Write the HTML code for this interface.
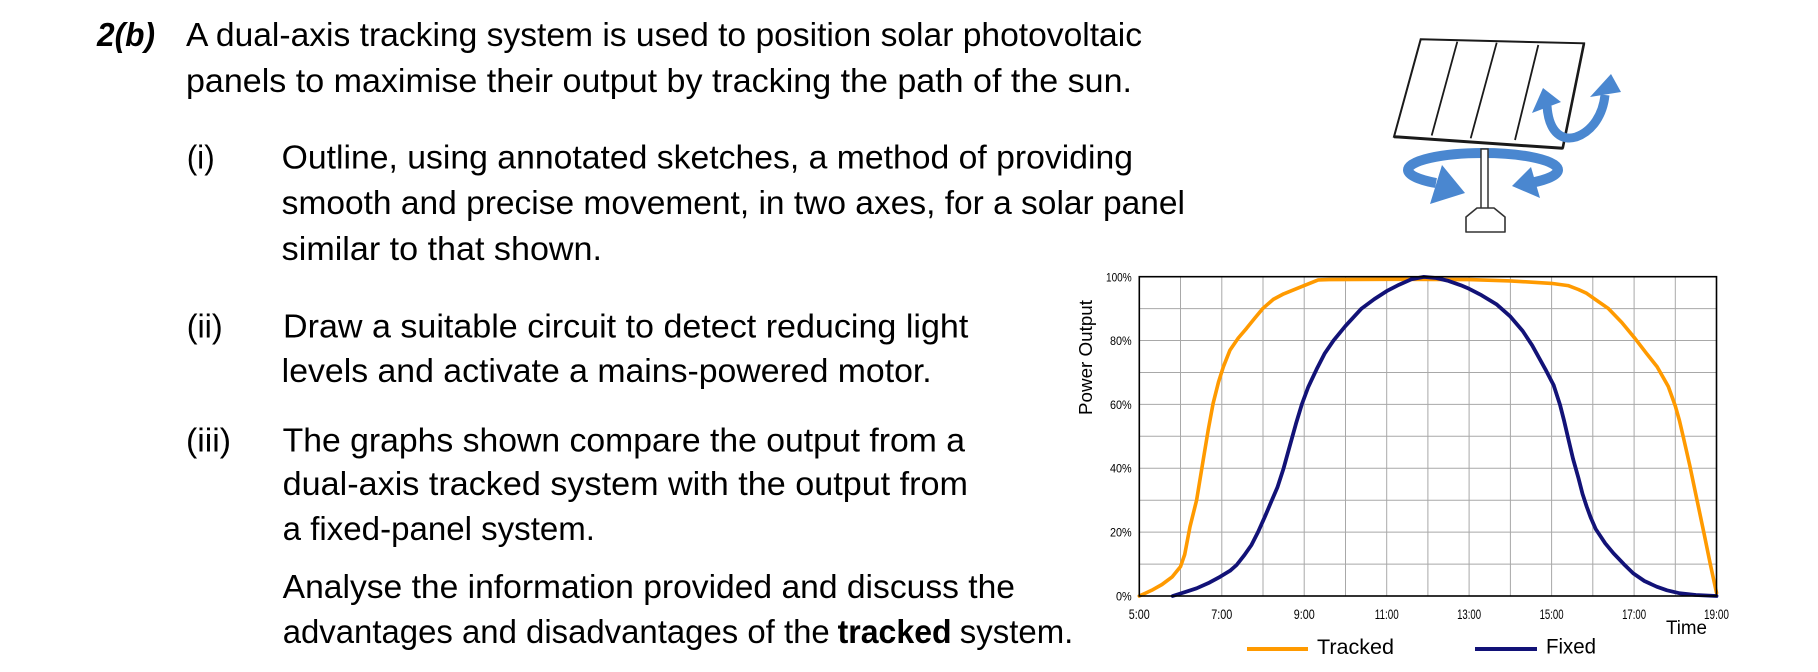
<!DOCTYPE html>
<html>
<head>
<meta charset="utf-8">
<style>
html,body{margin:0;padding:0;background:#fff;}
svg{display:block;}
text{font-family:"Liberation Sans",sans-serif;fill:#000;}
</style>
</head>
<body>
<svg width="1818" height="672" viewBox="0 0 1818 672" xmlns="http://www.w3.org/2000/svg">
<rect x="0" y="0" width="1818" height="672" fill="#fff"/>

<!-- Question text -->
<g font-size="33">
<text x="97" y="46" font-weight="bold" font-style="italic" textLength="58" lengthAdjust="spacingAndGlyphs">2(b)</text>
<text x="186" y="46" textLength="956" lengthAdjust="spacingAndGlyphs">A dual-axis tracking system is used to position solar photovoltaic</text>
<text x="186" y="92" textLength="946" lengthAdjust="spacingAndGlyphs">panels to maximise their output by tracking the path of the sun.</text>

<text x="186.7" y="168.5" textLength="28" lengthAdjust="spacingAndGlyphs">(i)</text>
<text x="281.7" y="168.5" textLength="851.3" lengthAdjust="spacingAndGlyphs">Outline, using annotated sketches, a method of providing</text>
<text x="281.7" y="214" textLength="903.3" lengthAdjust="spacingAndGlyphs">smooth and precise movement, in two axes, for a solar panel</text>
<text x="281.7" y="260" textLength="320.3" lengthAdjust="spacingAndGlyphs">similar to that shown.</text>

<text x="186.7" y="337.5" textLength="36" lengthAdjust="spacingAndGlyphs">(ii)</text>
<text x="283" y="337.5" textLength="685.3" lengthAdjust="spacingAndGlyphs">Draw a suitable circuit to detect reducing light</text>
<text x="281.7" y="382" textLength="650" lengthAdjust="spacingAndGlyphs">levels and activate a mains-powered motor.</text>

<text x="186" y="451.5" textLength="45" lengthAdjust="spacingAndGlyphs">(iii)</text>
<text x="282.7" y="451.5" textLength="682.3" lengthAdjust="spacingAndGlyphs">The graphs shown compare the output from a</text>
<text x="282.7" y="495" textLength="685.3" lengthAdjust="spacingAndGlyphs">dual-axis tracked system with the output from</text>
<text x="282.7" y="540" textLength="312.3" lengthAdjust="spacingAndGlyphs">a fixed-panel system.</text>

<text x="282.7" y="598" textLength="732.3" lengthAdjust="spacingAndGlyphs">Analyse the information provided and discuss the</text>
<text x="282.7" y="643" textLength="547" lengthAdjust="spacingAndGlyphs">advantages and disadvantages of the</text>
<text x="837.6" y="643" font-weight="bold" textLength="114" lengthAdjust="spacingAndGlyphs">tracked</text>
<text x="959.8" y="643" textLength="113.5" lengthAdjust="spacingAndGlyphs">system.</text>
</g>

<!-- Solar panel sketch -->
<g>
  <!-- rotation ellipse arrows (behind pole) -->
  <g fill="none" stroke="#4a87d0" stroke-width="10">
    <path d="M1483,153 A75,17 0 0 0 1408,170 A75,17 0 0 0 1436,183"/>
    <path d="M1483,153 A75,17 0 0 1 1558,170 A75,17 0 0 1 1530,183"/>
  </g>
  <polygon points="1442,165 1430,204 1465,193" fill="#4a87d0"/>
  <polygon points="1531,167 1540,198 1512,186" fill="#4a87d0"/>

  <!-- panel -->
  <polygon points="1420.7,39.3 1584,43.3 1562.7,148.3 1394,136.7" fill="#fff" stroke="#1a1a1a" stroke-width="2"/>
  <line x1="1394" y1="136.7" x2="1562.7" y2="148.3" stroke="#1a1a1a" stroke-width="3"/>
  <line x1="1584" y1="43.3" x2="1562.7" y2="148.3" stroke="#1a1a1a" stroke-width="2.6"/>
  <g stroke="#1a1a1a" stroke-width="1.8">
    <line x1="1457.3" y1="41.7" x2="1431.7" y2="135.5"/>
    <line x1="1496.7" y1="42.7" x2="1470.7" y2="138.3"/>
    <line x1="1538.3" y1="45" x2="1515" y2="140"/>
  </g>

  <!-- pole and base -->
  <rect x="1481" y="149" width="7" height="60" fill="#fff" stroke="#333" stroke-width="1.5"/>
  <path d="M1477,208 L1494,208 L1505,217 L1505,232 L1466,232 L1466,217 Z" fill="#fff" stroke="#333" stroke-width="1.6" stroke-linejoin="round"/>

  <!-- tilt arrow -->
  <path d="M1547,106 C1549,134 1563,141 1576,137 C1593,131 1603,114 1605,95" fill="none" stroke="#4a87d0" stroke-width="9"/>
  <polygon points="1543,88 1532,113 1561,102" fill="#4a87d0"/>
  <polygon points="1611,74 1590,97 1621,92" fill="#4a87d0"/>
</g>

<!-- Chart gridlines -->
<g stroke="#a8a8a8" stroke-width="1">
  <line x1="1180.5" y1="276.7" x2="1180.5" y2="596"/>
  <line x1="1221.8" y1="276.7" x2="1221.8" y2="596"/>
  <line x1="1263.0" y1="276.7" x2="1263.0" y2="596"/>
  <line x1="1304.2" y1="276.7" x2="1304.2" y2="596"/>
  <line x1="1345.5" y1="276.7" x2="1345.5" y2="596"/>
  <line x1="1386.7" y1="276.7" x2="1386.7" y2="596"/>
  <line x1="1427.9" y1="276.7" x2="1427.9" y2="596"/>
  <line x1="1469.1" y1="276.7" x2="1469.1" y2="596"/>
  <line x1="1510.4" y1="276.7" x2="1510.4" y2="596"/>
  <line x1="1551.6" y1="276.7" x2="1551.6" y2="596"/>
  <line x1="1592.8" y1="276.7" x2="1592.8" y2="596"/>
  <line x1="1634.1" y1="276.7" x2="1634.1" y2="596"/>
  <line x1="1675.3" y1="276.7" x2="1675.3" y2="596"/>

  <line x1="1139.3" y1="308.6" x2="1716.5" y2="308.6"/>
  <line x1="1139.3" y1="340.5" x2="1716.5" y2="340.5"/>
  <line x1="1139.3" y1="372.5" x2="1716.5" y2="372.5"/>
  <line x1="1139.3" y1="404.4" x2="1716.5" y2="404.4"/>
  <line x1="1139.3" y1="436.3" x2="1716.5" y2="436.3"/>
  <line x1="1139.3" y1="468.3" x2="1716.5" y2="468.3"/>
  <line x1="1139.3" y1="500.2" x2="1716.5" y2="500.2"/>
  <line x1="1139.3" y1="532.1" x2="1716.5" y2="532.1"/>
  <line x1="1139.3" y1="564.1" x2="1716.5" y2="564.1"/>
</g>

<!-- Series -->
<polyline fill="none" stroke="#ff9a00" stroke-width="3.6" stroke-linejoin="round" stroke-linecap="round"
 points="1139.3,596 1151.7,590.3 1162.0,584.5 1172.3,576.8 1180.5,566.6 1184.7,554.5 1190.0,526.7 1196.6,500.2 1203.2,460.0 1208.2,430.0 1213.1,403.5 1218.5,382.1 1223.4,366.7 1230.0,350.1 1238.3,338.0 1246.5,328.4 1254.7,318.2 1263.0,308.3 1273.3,299.4 1283.6,293.9 1293.1,290.1 1304.2,285.6 1318.2,279.9 1329.0,279.6 1386.7,279.3 1469.1,279.6 1510.4,280.9 1551.6,283.4 1568.1,285.6 1578.4,289.5 1586.6,293.3 1597.0,300.6 1608.1,308.3 1621.7,322.4 1634.9,338.3 1646.4,353.3 1657.1,366.7 1668.3,386.5 1675.3,406.0 1679.4,420.4 1683.5,437.9 1689.7,465.1 1696.7,498.6 1704.1,533.7 1710.3,564.1 1716.5,592.8"/>
<polyline fill="none" stroke="#121277" stroke-width="3.8" stroke-linejoin="round" stroke-linecap="round"
 points="1172.7,596 1184.7,592.2 1196.6,588.3 1209.4,582.6 1220.1,576.8 1230.0,570.8 1236.6,565.0 1244.4,555.1 1251.5,544.9 1258.0,532.1 1265.1,516.2 1271.2,501.8 1277.4,487.4 1283.6,468.3 1289.8,445.9 1296.0,423.6 1301.8,404.4 1308.3,386.9 1316.6,369.3 1324.8,353.3 1333.5,340.6 1345.5,325.9 1361.5,308.6 1374.3,299.1 1386.7,291.1 1399.1,284.7 1411.4,279.3 1423.8,276.9 1436.2,278.0 1448.5,280.9 1460.9,285.3 1469.1,288.8 1481.5,295.2 1496.4,304.2 1510.4,316.6 1522.7,331.0 1532.2,345.4 1545.4,369.3 1553.7,385.3 1559.9,404.4 1564.0,420.4 1568.1,437.9 1573.0,458.7 1578.4,477.9 1582.5,493.8 1586.7,506.6 1590.8,517.8 1595.7,529.0 1605.2,543.3 1613.4,553.2 1623.8,564.1 1633.2,573.3 1644.4,581.0 1656.7,586.7 1667.0,590.3 1679.8,593.3 1695.9,595.0 1716.5,596"/>

<!-- Plot border -->
<rect x="1139.3" y="276.7" width="577.2" height="319.3" fill="none" stroke="#000" stroke-width="1.6"/>

<!-- Y tick labels -->
<g font-size="12">
  <text x="1106" y="281.5" textLength="25.7" lengthAdjust="spacingAndGlyphs">100%</text>
  <text x="1110" y="345" textLength="21.7" lengthAdjust="spacingAndGlyphs">80%</text>
  <text x="1110" y="408.8" textLength="21.7" lengthAdjust="spacingAndGlyphs">60%</text>
  <text x="1110" y="472.7" textLength="21.7" lengthAdjust="spacingAndGlyphs">40%</text>
  <text x="1110" y="536.5" textLength="21.7" lengthAdjust="spacingAndGlyphs">20%</text>
  <text x="1116" y="600.4" textLength="15.7" lengthAdjust="spacingAndGlyphs">0%</text>
</g>

<!-- X tick labels -->
<g font-size="14">
  <text x="1128.8" y="619" textLength="21" lengthAdjust="spacingAndGlyphs">5:00</text>
  <text x="1211.3" y="619" textLength="21" lengthAdjust="spacingAndGlyphs">7:00</text>
  <text x="1293.7" y="619" textLength="21" lengthAdjust="spacingAndGlyphs">9:00</text>
  <text x="1374.7" y="619" textLength="24" lengthAdjust="spacingAndGlyphs">11:00</text>
  <text x="1457.1" y="619" textLength="24" lengthAdjust="spacingAndGlyphs">13:00</text>
  <text x="1539.6" y="619" textLength="24" lengthAdjust="spacingAndGlyphs">15:00</text>
  <text x="1622.1" y="619" textLength="24" lengthAdjust="spacingAndGlyphs">17:00</text>
  <text x="1704" y="619" textLength="25" lengthAdjust="spacingAndGlyphs">19:00</text>
</g>

<!-- Axis titles -->
<text transform="translate(1092,415) rotate(-90)" x="0" y="0" font-size="18" textLength="115" lengthAdjust="spacingAndGlyphs">Power Output</text>
<text x="1666" y="634" font-size="19" textLength="41" lengthAdjust="spacingAndGlyphs">Time</text>

<!-- Legend -->
<line x1="1247" y1="649" x2="1308" y2="649" stroke="#ff9a00" stroke-width="4"/>
<text x="1317" y="654" font-size="21.5" textLength="77" lengthAdjust="spacingAndGlyphs">Tracked</text>
<line x1="1475" y1="649" x2="1537" y2="649" stroke="#121277" stroke-width="4"/>
<text x="1546" y="653.5" font-size="21.5" textLength="50" lengthAdjust="spacingAndGlyphs">Fixed</text>
</svg>
</body>
</html>
